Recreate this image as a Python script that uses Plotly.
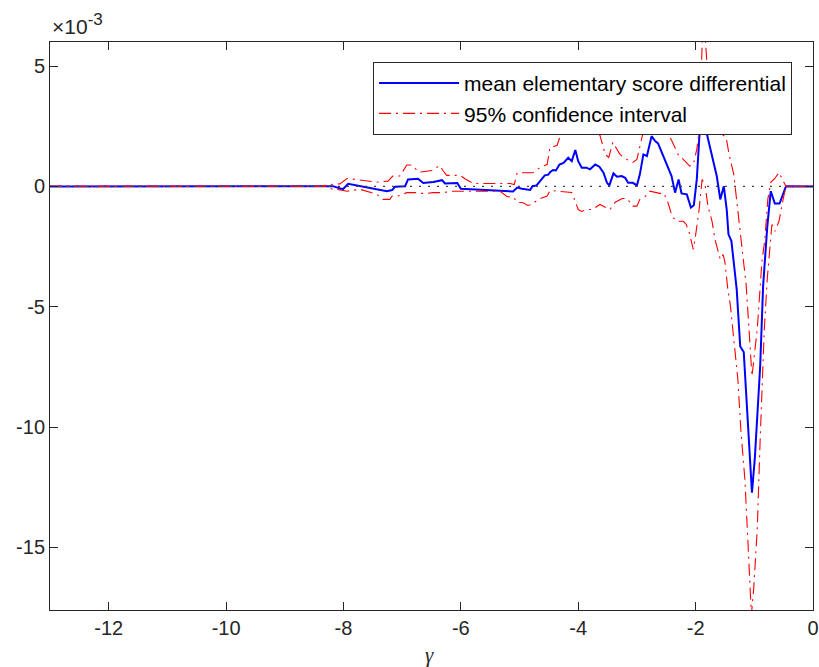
import plotly.graph_objects as go

# values in units of 1e-3
mean_x = [-13.0, -8.18, -8.01, -7.92, -7.26, -7.17, -7.12, -6.95, -6.90, -6.73, -6.64, -6.47, -6.32, -6.27,
          -6.06, -6.00, -5.11, -5.04, -4.96, -4.82, -4.78, -4.71, -4.65, -4.57, -4.51, -4.48, -4.43, -4.38,
          -4.32, -4.25, -4.17, -4.11, -4.05, -4.00, -3.94, -3.86, -3.80, -3.71, -3.64, -3.57, -3.51, -3.47,
          -3.40, -3.34, -3.26, -3.20, -3.15, -3.07, -3.00, -2.95, -2.89, -2.83, -2.75, -2.69, -2.64, -2.55,
          -2.47, -2.41, -2.35, -2.29, -2.24, -2.15, -2.08, -2.03, -1.98, -1.93, -1.89, -1.84, -1.76, -1.70,
          -1.64, -1.58, -1.52, -1.47, -1.44, -1.39, -1.30, -1.24, -1.18, -1.04, -0.99, -0.90, -0.85, -0.78,
          -0.72, -0.65, -0.57, -0.46, 0.0]
mean_y = [0.0, 0.01, -0.12, 0.11, -0.20, -0.15, -0.01, 0.01, 0.29, 0.32, 0.14, 0.18, 0.26, 0.12,
          0.14, -0.10, -0.21, -0.05, -0.10, -0.15, 0.01, 0.04, 0.22, 0.46, 0.49, 0.59, 0.68, 0.66,
          0.91, 0.98, 1.19, 1.05, 1.51, 1.05, 0.78, 0.78, 0.71, 0.91, 0.82, 0.57, 0.15, 0.04,
          0.54, 0.40, 0.43, 0.36, 0.15, 0.15, 0.04, 0.50, 1.33, 1.26, 2.09, 1.88, 1.79, 1.26,
          0.78, 0.43, -0.26, 0.29, -0.29, -0.33, -0.88, -0.78, 0.29, 2.37, 3.95, 2.51, 1.67, 1.05,
          0.43, -0.54, 0.01, -0.96, -1.99, -2.27, -4.28, -6.65, -6.88, -12.73, -11.26, -7.47, -4.14, -1.70,
          -0.20, -0.71, -0.71, 0.01, 0.0]

upper_x = [-13.0, -8.40, -8.14, -8.06, -7.94, -7.72, -7.43, -7.24, -7.16, -7.04, -6.92, -6.84, -6.71, -6.49,
           -6.36, -6.30, -6.24, -6.01, -5.93, -5.79, -5.16, -5.09, -5.04, -4.77, -4.65, -4.53, -4.48, -4.36,
           -4.26, -4.17, -4.09, -4.00, -3.88, -3.76, -3.63, -3.54, -3.48, -3.41, -3.29, -3.17, -3.07, -3.00,
           -2.91, -2.81, -2.69, -2.57, -2.49, -2.40, -2.30, -2.21, -2.10, -2.04, -1.98, -1.93, -1.87, -1.81,
           -1.58, -1.55, -1.48, -1.43, -1.35, -1.28, -1.19, -1.14, -1.09, -1.04, -0.95, -0.87, -0.82, -0.77,
           -0.72, -0.65, -0.58, -0.46, 0.0]
upper_y = [0.0, 0.0, 0.11, 0.10, 0.33, 0.26, 0.18, 0.22, 0.43, 0.43, 0.89, 0.89, 0.59, 0.66,
           0.87, 0.64, 0.46, 0.46, 0.32, 0.12, 0.12, 0.08, 0.57, 0.57, 0.79, 0.91, 1.62, 1.70,
           2.45, 2.30, 2.51, 2.87, 2.70, 2.45, 2.12, 1.33, 1.20, 1.83, 1.33, 1.12, 1.00, 1.12,
           2.08, 2.99, 3.28, 2.87, 2.29, 1.87, 1.33, 1.12, 0.84, 0.91, 1.54, 2.49, 7.5, 5.23,
           2.49, 2.16, 2.04, 1.33, 0.50, -0.96, -2.83, -4.07, -5.94, -7.89, -5.94, -3.12, -2.20, -0.54,
           0.17, 0.33, 0.58, 0.0, 0.0]

lower_x = [-13.0, -8.31, -8.19, -8.11, -7.94, -7.72, -7.43, -7.33, -7.21, -7.17, -7.07, -6.92, -6.78, -6.69,
           -6.58, -6.47, -6.30, -6.15, -6.01, -5.79, -5.33, -5.21, -5.11, -5.04, -4.94, -4.86, -4.79, -4.68,
           -4.53, -4.48, -4.38, -4.26, -4.11, -4.00, -3.94, -3.85, -3.76, -3.63, -3.46, -3.37, -3.25, -3.17,
           -3.07, -3.00, -2.95, -2.86, -2.78, -2.61, -2.54, -2.47, -2.40, -2.32, -2.21, -2.16, -2.10, -2.04,
           -2.01, -1.94, -1.89, -1.84, -1.79, -1.72, -1.67, -1.58, -1.53, -1.50, -1.45, -1.41, -1.35, -1.28,
           -1.23, -1.16, -1.11, -1.05, -1.01, -0.95, -0.90, -0.83, -0.78, -0.73, -0.70, -0.65, -0.58, -0.51,
           -0.46, 0.0]
lower_y = [0.0, 0.0, -0.12, -0.12, -0.20, -0.12, -0.33, -0.54, -0.54, -0.40, -0.40, -0.26, -0.26, -0.29,
           -0.29, -0.26, -0.26, -0.20, -0.20, -0.21, -0.20, -0.43, -0.43, -0.66, -0.68, -0.79, -0.75, -0.54,
           -0.40, -0.17, -0.20, -0.21, -0.25, -0.96, -1.04, -0.96, -0.96, -0.75, -0.96, -0.66, -0.50, -0.50,
           -0.82, -0.82, -0.54, -0.42, -0.20, -0.29, -0.29, -0.68, -1.25, -1.45, -1.45, -1.58, -1.99, -2.62,
           -2.20, -0.96, 0.29, 0.08, -0.83, -1.45, -2.20, -3.03, -2.83, -3.16, -4.30, -4.90, -6.36, -8.02,
           -10.1, -12.2, -14.7, -17.8, -16.7, -14.25, -10.5, -5.94, -3.86, -2.62, -1.58, -1.87, -1.45, -0.54,
           0.0, 0.0]

zero_x = [-13.0, 0.0]
zero_y = [0.0, 0.0]

x_ticks = [-12, -10, -8, -6, -4, -2, 0]
x_tick_text = ["-12", "-10", "-8", "-6", "-4", "-2", "0"]
y_ticks = [5, 0, -5, -10, -15]
y_tick_text = ["5", "0", "-5", "-10", "-15"]

axis_color = "#262626"
font_family = "Liberation Sans, Arial, sans-serif"
ci_dash = "12px,5px,2px,5px"

fig = go.Figure()
fig.add_trace(go.Scatter(x=mean_x, y=mean_y, mode="lines",
                         line=dict(color="#0000FF", width=2),
                         name="mean elementary score differential"))
fig.add_trace(go.Scatter(x=upper_x, y=upper_y, mode="lines",
                         line=dict(color="#FF0000", width=1.1, dash=ci_dash),
                         name="95% confidence interval", legendgroup="ci"))
fig.add_trace(go.Scatter(x=lower_x, y=lower_y, mode="lines",
                         line=dict(color="#FF0000", width=1.1, dash=ci_dash),
                         name="95% confidence interval", legendgroup="ci", showlegend=False))
fig.add_trace(go.Scatter(x=zero_x, y=zero_y, mode="lines",
                         line=dict(color="#444444", width=1.2, dash="2px,7px"),
                         showlegend=False, hoverinfo="skip"))

fig.update_layout(
    width=819, height=667,
    margin=dict(l=50, r=6, t=42, b=57, autoexpand=False),
    paper_bgcolor="white", plot_bgcolor="white",
    font=dict(family=font_family, size=20, color=axis_color),
    showlegend=True,
    hovermode=False,
    legend=dict(x=0.9725, y=0.965, xanchor="right", yanchor="top",
                bgcolor="white", bordercolor=axis_color, borderwidth=1,
                font=dict(family=font_family, size=21, color="#000000"),
                itemwidth=80, tracegroupgap=0),
    annotations=[
        dict(text="×10<sup><span style='font-size:17px'>-3</span></sup>", xref="paper", yref="paper",
             x=0.0, y=1.0, xanchor="left", yanchor="bottom", yshift=2,
             showarrow=False, font=dict(family=font_family, size=21, color=axis_color)),
        dict(text="<i>γ</i>", xref="paper", yref="paper",
             x=0.498, y=0.0, xanchor="center", yanchor="middle", yshift=-45,
             showarrow=False, font=dict(family="Liberation Serif, Times New Roman, serif", size=21,
                                        color=axis_color)),
    ],
)
fig.update_xaxes(range=[-13, 0], tickvals=x_ticks, ticktext=x_tick_text, automargin=False,
                 ticks="inside", ticklen=8, tickcolor=axis_color, mirror="ticks", ticklabeloverflow="allow",
                 showline=True, linecolor=axis_color, linewidth=1, showgrid=False, zeroline=False)
fig.update_yaxes(range=[-17.6, 6.0], tickvals=y_ticks, ticktext=y_tick_text, automargin=False,
                 ticks="inside", ticklen=8, tickcolor=axis_color, mirror="ticks", ticklabeloverflow="allow",
                 showline=True, linecolor=axis_color, linewidth=1, showgrid=False, zeroline=False)

fig.write_html("out.html", config={"displayModeBar": False},
               post_script="document.body.style.margin='0';document.body.style.overflow='hidden';")
